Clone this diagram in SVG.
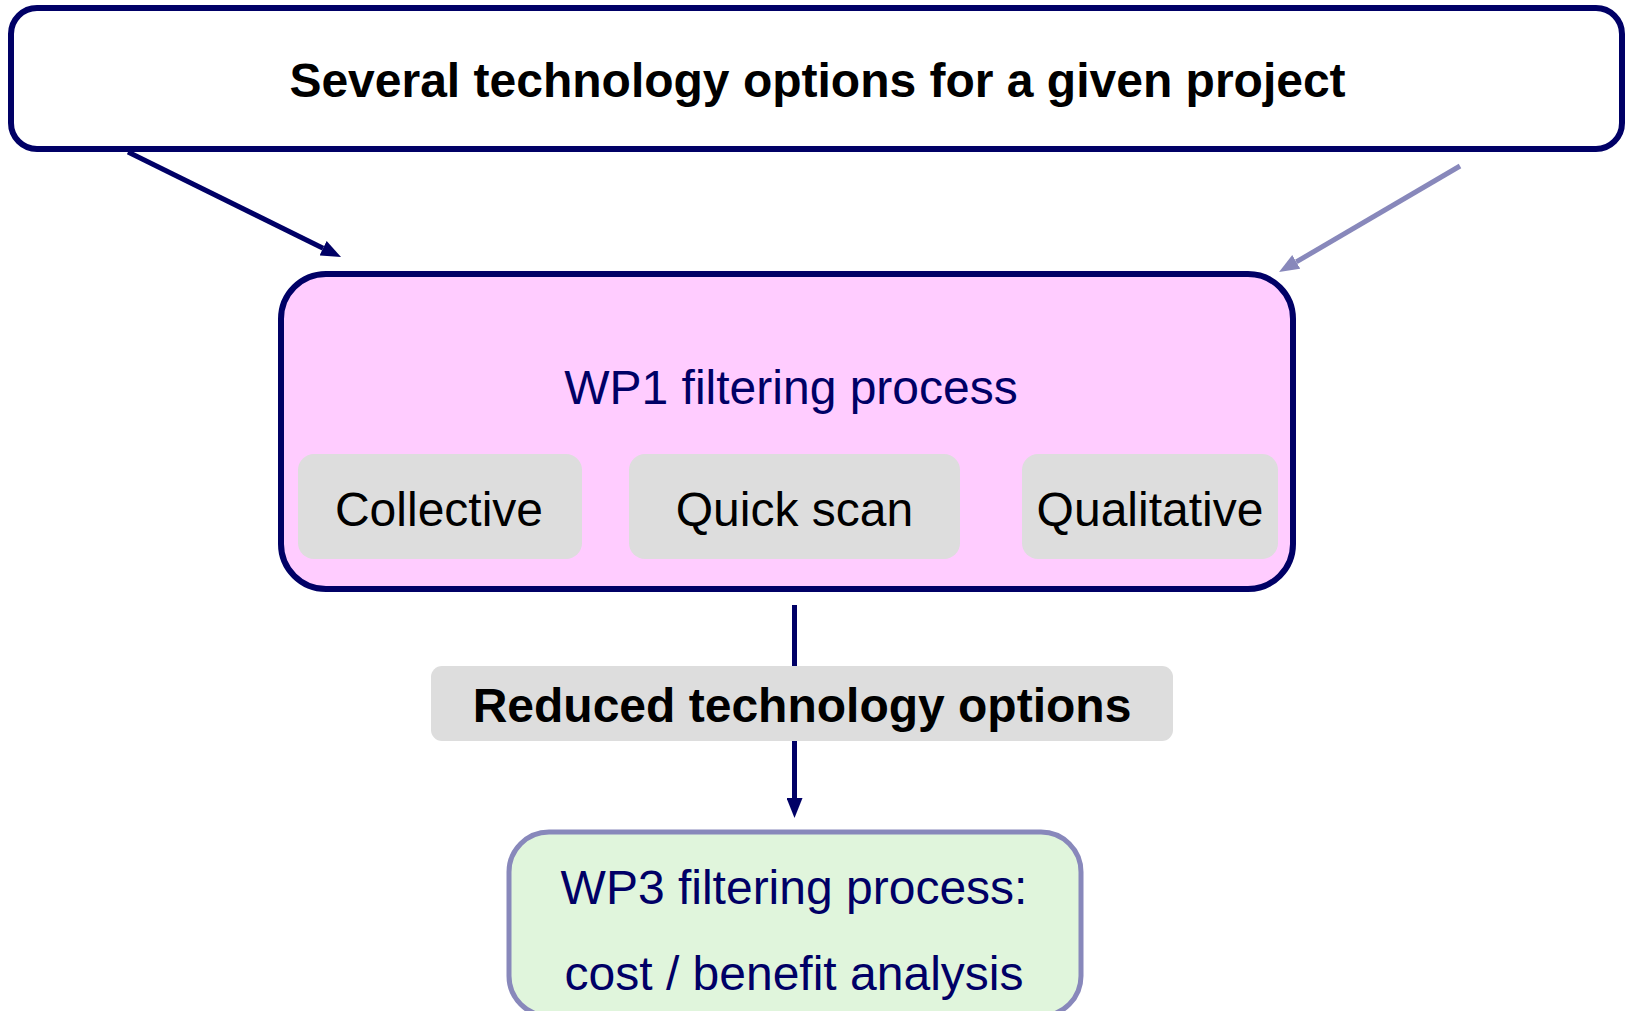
<svg xmlns="http://www.w3.org/2000/svg" width="1626" height="1011" viewBox="0 0 1626 1011">
  <style>
    .txt { font-family: "Liberation Sans", Arial, sans-serif; font-size: 48px; text-anchor: middle; }
    .bold { font-weight: bold; fill: #000000; }
    .navy { fill: #000066; }
    .black { fill: #000000; }
    .chip { fill: #dddddd; stroke: none; }
    .dark { stroke: #000066; stroke-width: 5; fill: none; }
    .light { stroke: #8888bb; stroke-width: 5; fill: none; }
  </style>
  <defs>
    <marker id="headDark" viewBox="0 0 20 16" refX="0" refY="8" markerWidth="20" markerHeight="16" markerUnits="userSpaceOnUse" orient="auto">
      <path d="M0,0 L20,8 L0,16 z" fill="#000066"/>
    </marker>
    <marker id="headLight" viewBox="0 0 20 16" refX="0" refY="8" markerWidth="20" markerHeight="16" markerUnits="userSpaceOnUse" orient="auto">
      <path d="M0,0 L20,8 L0,16 z" fill="#8888bb"/>
    </marker>
  </defs>

  <rect width="1626" height="1011" fill="#ffffff"/>

  <!-- connectors -->
  <g id="connectors">
    <line class="dark" x1="128" y1="152" x2="323.1" y2="248.2" marker-end="url(#headDark)"/>
    <line class="light" stroke-width="4" x1="1460" y1="166" x2="1296.3" y2="261.9" marker-end="url(#headLight)"/>
    <line class="dark" x1="794.5" y1="605" x2="794.5" y2="798" marker-end="url(#headDark)"/>
  </g>

  <!-- starting point -->
  <g id="options">
    <rect x="11" y="8" width="1611" height="141" rx="26" ry="26" fill="#ffffff" stroke="#000066" stroke-width="6"/>
    <text class="txt bold" x="817.5" y="97">Several technology options for a given project</text>
  </g>

  <!-- WP1 container with its three methods -->
  <g id="wp1">
    <rect x="281" y="274" width="1012" height="315" rx="45" ry="45" fill="#ffccff" stroke="#000066" stroke-width="6"/>
    <text class="txt navy" x="791" y="404">WP1 filtering process</text>
  </g>
  <g id="collective">
    <rect class="chip" x="298" y="454" width="284" height="105" rx="16" ry="16"/>
    <text class="txt black" x="439" y="526">Collective</text>
  </g>
  <g id="quickscan">
    <rect class="chip" x="629" y="454" width="331" height="105" rx="16" ry="16"/>
    <text class="txt black" x="794.5" y="526">Quick scan</text>
  </g>
  <g id="qualitative">
    <rect class="chip" x="1022" y="454" width="256" height="105" rx="16" ry="16"/>
    <text class="txt black" x="1150" y="526">Qualitative</text>
  </g>

  <!-- intermediate result -->
  <g id="reduced">
    <rect class="chip" x="431" y="666" width="742" height="75" rx="11" ry="11"/>
    <text class="txt bold" x="802" y="722">Reduced technology options</text>
  </g>

  <!-- WP3 stage -->
  <g id="wp3">
    <rect x="509" y="832" width="572" height="184" rx="40" ry="40" fill="#e0f5dc" stroke="#8888bb" stroke-width="5"/>
    <text class="txt navy" x="794" y="904">WP3 filtering process:</text>
    <text class="txt navy" x="794" y="990">cost / benefit analysis</text>
  </g>
</svg>
